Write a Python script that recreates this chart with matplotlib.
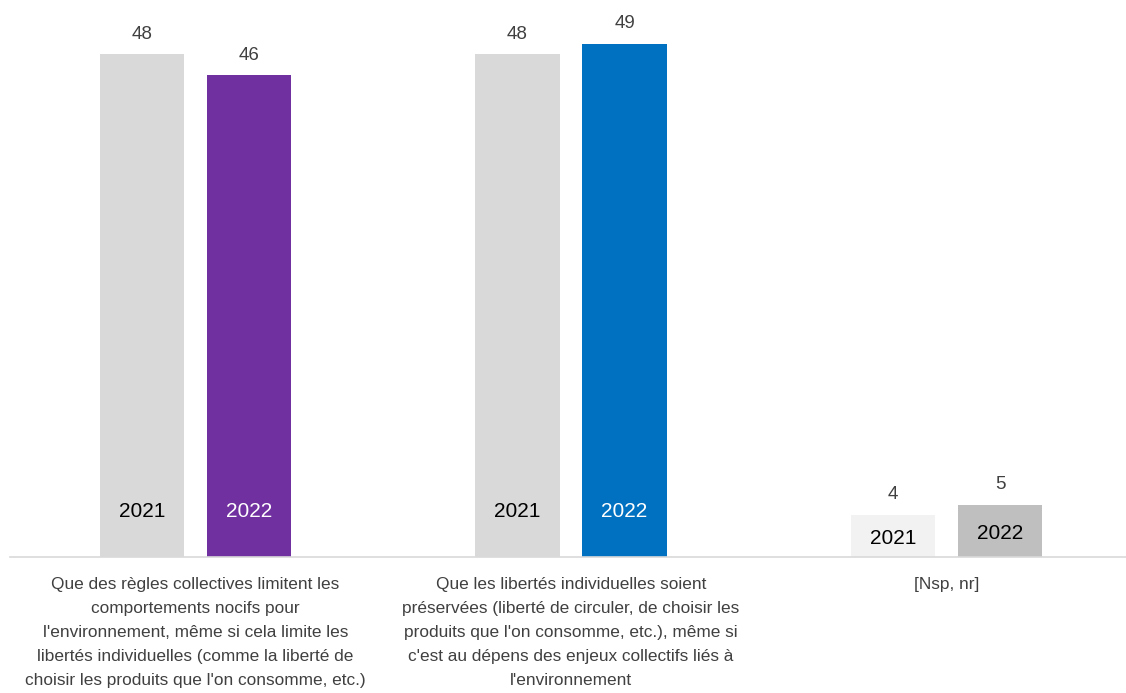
import numpy as np
import matplotlib.pyplot as plt

categories = [
    "Que des règles collectives limitent les\ncomportements nocifs pour\nl'environnement, même si cela limite les\nlibertés individuelles (comme la liberté de\nchoisir les produits que l'on consomme, etc.)",
    "Que les libertés individuelles soient\npréservées (liberté de circuler, de choisir les\nproduits que l'on consomme, etc.), même si\nc'est au dépens des enjeux collectifs liés à\nl'environnement",
    "[Nsp, nr]",
]
years = ["2021", "2022"]
values_2021 = [48, 48, 4]
values_2022 = [46, 49, 5]

colors_2021 = ["#D9D9D9", "#D9D9D9", "#F2F2F2"]
colors_2022 = ["#7030A0", "#0070C0", "#BFBFBF"]
year_text_2022 = ["white", "white", "black"]

fig = plt.figure(figsize=(11.26, 6.93), dpi=100)
ax = fig.add_axes([0.0089, 0.196, 0.9911, 0.804])

x = np.arange(len(categories))
w = 0.226
off = 0.1425

b1 = ax.bar(x - off, values_2021, w, color=colors_2021)
b2 = ax.bar(x + off, values_2022, w, color=colors_2022)

label_font = ["Liberation Sans", "DejaVu Sans"]
for bars, vals, year, tcols in [(b1, values_2021, years[0], ["black"] * 3),
                                (b2, values_2022, years[1], year_text_2022)]:
    for rect, v, tc in zip(bars, vals, tcols):
        cx = rect.get_x() + rect.get_width() / 2
        ax.annotate(str(v), (cx, v), xytext=(0, 8.5), textcoords="offset points",
                    ha="center", va="bottom", fontsize=13.5, color="#404040",
                    family=label_font)
        # year name sits near the foot of the bar, centred in short bars
        ax.text(cx, min(4.4, v * 0.45), year, ha="center", va="center",
                fontsize=15, color=tc, family=label_font)

ax.set_xlim(-0.494, 2.478)
ax.set_ylim(0, 53.2)
ax.set_yticks([])
ax.set_xticks(x)
ax.set_xticklabels(categories, fontsize=12.4, color="#404040", linespacing=1.75,
                   family=label_font, va="top")
ax.tick_params(axis="x", length=0, pad=14)

for s in ["top", "right", "left"]:
    ax.spines[s].set_visible(False)
ax.spines["bottom"].set_color("#D9D9D9")
ax.spines["bottom"].set_linewidth(1.2)

fig.savefig("out.png", dpi=100)
